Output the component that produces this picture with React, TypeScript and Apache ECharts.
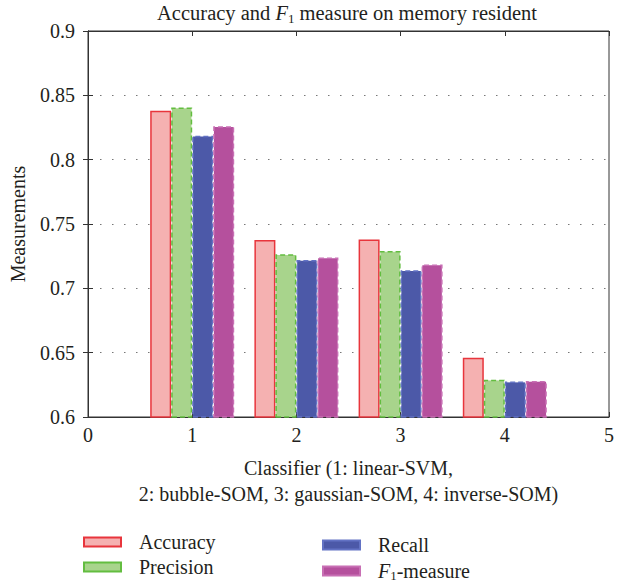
import React, { useEffect, useRef } from "react";
import * as echarts from "echarts";

// Classifier positions on the x axis
const classifiers = [1, 2, 3, 4];

// Measurement values per classifier (1: linear-SVM, 2: bubble-SOM, 3: gaussian-SOM, 4: inverse-SOM)
const accuracy = [0.838, 0.7375, 0.738, 0.646];
const precision = [0.8405, 0.7265, 0.729, 0.629];
const recall = [0.8185, 0.722, 0.714, 0.6275];
const f1Measure = [0.826, 0.724, 0.7185, 0.628];

const seriesNames = ["Accuracy", "Precision", "Recall", "F1-measure"];

const FONT = "Liberation Serif";
const TEXT = "#231f20";

const makeRich = (size: number) => ({
  i: { fontFamily: FONT, fontStyle: "italic" as const, fontSize: size, color: TEXT },
  s: {
    fontFamily: FONT,
    fontSize: Math.round(size * 0.65),
    color: TEXT,
    verticalAlign: "bottom" as const,
    lineHeight: size + 2,
  },
});

function pairs(values: number[]) {
  return classifiers.map((c, i) => [c, values[i]]);
}

export default function App() {
  const ref = useRef<HTMLDivElement>(null);

  useEffect(() => {
    if (!ref.current) return;
    const chart = echarts.init(ref.current, undefined, { renderer: "svg" });

    const legendText = (name: string) =>
      name === "F1-measure" ? "{i|F}{s|1}-measure" : name;

    const legendCommon = {
      orient: "vertical" as const,
      icon: "rect",
      padding: 0,
      itemWidth: 37,
      itemHeight: 9,
      itemGap: 5,
      formatter: legendText,
      textStyle: {
        fontFamily: FONT,
        fontSize: 20,
        color: TEXT,
        lineHeight: 20,
        padding: [0, 0, 0, 13],
        rich: makeRich(20),
      },
    };

    const axisLabelStyle = { fontFamily: FONT, fontSize: 20, color: TEXT };

    chart.setOption({
      animation: false,
      backgroundColor: "#ffffff",
      title: {
        text: "Accuracy and {i|F}{s|1} measure on memory resident",
        left: 347,
        top: 1,
        padding: 0,
        textAlign: "center",
        textStyle: {
          fontFamily: FONT,
          fontSize: 20.5,
          fontWeight: "normal",
          color: TEXT,
          lineHeight: 24,
          rich: makeRich(20.5),
        },
      },
      legend: [
        { ...legendCommon, left: 83, top: 532, data: ["Accuracy", "Precision"] },
        { ...legendCommon, left: 322, top: 535, data: ["Recall", "F1-measure"] },
      ],
      grid: {
        left: 85,
        right: 4,
        top: 31,
        bottom: 166,
        show: true,
        borderColor: "#333",
        borderWidth: 1,
        backgroundColor: "transparent",
      },
      xAxis: [
        {
          type: "value",
          min: 0,
          max: 5,
          interval: 1,
          position: "bottom",
          name: "Classifier (1: linear-SVM,\n2: bubble-SOM, 3: gaussian-SOM, 4: inverse-SOM)",
          nameLocation: "middle",
          nameGap: 38,
          nameTextStyle: { ...axisLabelStyle, lineHeight: 26, align: "center" },
          axisLine: { show: true, lineStyle: { color: "#333", width: 1 } },
          axisTick: { show: true, inside: true, length: 5, lineStyle: { color: "#333" } },
          axisLabel: { ...axisLabelStyle, margin: 8 },
          splitLine: { show: false },
        },
        {
          type: "value",
          min: 0,
          max: 5,
          interval: 1,
          position: "top",
          axisLine: { show: true, lineStyle: { color: "#333", width: 1 } },
          axisTick: { show: true, inside: true, length: 5, lineStyle: { color: "#333" } },
          axisLabel: { show: false },
          splitLine: { show: false },
        },
      ],
      yAxis: [
        {
          type: "value",
          min: 0.6,
          max: 0.9,
          interval: 0.05,
          position: "left",
          name: "Measurements",
          nameLocation: "middle",
          nameGap: 60,
          nameTextStyle: axisLabelStyle,
          axisLine: { show: true, lineStyle: { color: "#333", width: 1 } },
          axisTick: { show: true, inside: true, length: 5, lineStyle: { color: "#333" } },
          axisLabel: {
            ...axisLabelStyle,
            margin: 13,
            formatter: (v: number) => String(Math.round(v * 100) / 100),
          },
          splitLine: {
            show: true,
            lineStyle: { color: "#777", width: 1.2, type: [1.5, 10.5] },
          },
        },
        {
          type: "value",
          min: 0.6,
          max: 0.9,
          interval: 0.05,
          position: "right",
          axisLine: { show: true, lineStyle: { color: "#333", width: 1 } },
          axisTick: { show: true, inside: true, length: 5, lineStyle: { color: "#333" } },
          axisLabel: { show: false },
          splitLine: { show: false },
        },
      ],
      series: [
        {
          name: seriesNames[0],
          type: "bar",
          data: pairs(accuracy),
          barWidth: 21,
          barGap: "0%",
          itemStyle: { color: "#f5b1b1", borderColor: "#e8353c", borderWidth: 1.5 },
        },
        {
          name: seriesNames[1],
          type: "bar",
          data: pairs(precision),
          barWidth: 21,
          barGap: "0%",
          itemStyle: {
            color: "#a8d48c",
            borderColor: "#63bd40",
            borderWidth: 1.5,
            borderType: [5, 3],
          },
        },
        {
          name: seriesNames[2],
          type: "bar",
          data: pairs(recall),
          barWidth: 21,
          barGap: "0%",
          itemStyle: {
            color: "#4c59a8",
            borderColor: "#6272c4",
            borderWidth: 1.5,
            borderType: [5, 3],
          },
        },
        {
          name: seriesNames[3],
          type: "bar",
          data: pairs(f1Measure),
          barWidth: 21,
          barGap: "0%",
          itemStyle: {
            color: "#b5509d",
            borderColor: "#c86fb4",
            borderWidth: 1.5,
            borderType: [5, 3],
          },
        },
      ],
    });

    return () => chart.dispose();
  }, []);

  return (
    <div
      ref={ref}
      style={{ position: "fixed", left: 0, top: 0, width: 617, height: 583 }}
    />
  );
}
